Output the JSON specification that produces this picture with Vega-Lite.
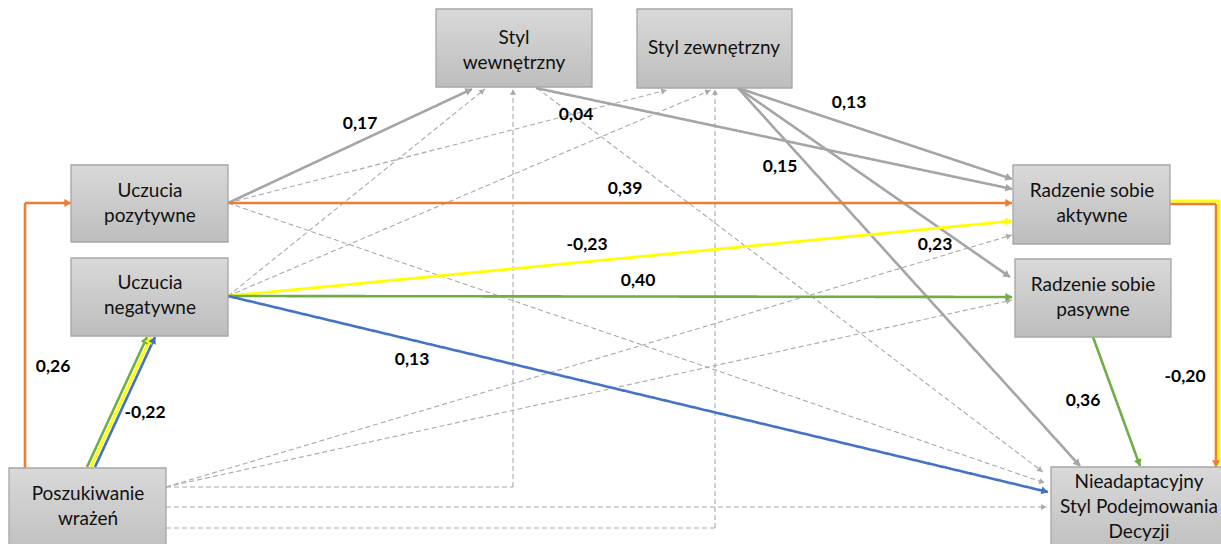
{
  "$schema": "https://vega.github.io/schema/vega-lite/v6.json",
  "width": 1221,
  "height": 544,
  "autosize": {"type": "none"},
  "padding": 0,
  "background": "white",
  "config": {"view": {"stroke": null}},
  "datasets": {
    "edges": [
      {"x1": 228, "y1": 203, "x2": 667, "y2": 90, "kind": "dash", "arrow": true},
      {"x1": 228, "y1": 203, "x2": 1045, "y2": 483, "kind": "dash", "arrow": true},
      {"x1": 228, "y1": 296, "x2": 485, "y2": 89, "kind": "dash", "arrow": true},
      {"x1": 228, "y1": 296, "x2": 711, "y2": 90, "kind": "dash", "arrow": true},
      {"x1": 537, "y1": 88, "x2": 1043, "y2": 472, "kind": "dash", "arrow": true},
      {"x1": 166, "y1": 487, "x2": 1012, "y2": 235, "kind": "dash", "arrow": true},
      {"x1": 166, "y1": 487, "x2": 1012, "y2": 300, "kind": "dash", "arrow": true},
      {"x1": 166, "y1": 487, "x2": 513, "y2": 487, "kind": "dash", "arrow": false},
      {"x1": 513, "y1": 487, "x2": 513, "y2": 89, "kind": "dash", "arrow": true},
      {"x1": 166, "y1": 507, "x2": 1047, "y2": 507, "kind": "dash", "arrow": true},
      {"x1": 166, "y1": 528, "x2": 715, "y2": 528, "kind": "dash", "arrow": false},
      {"x1": 715, "y1": 528, "x2": 715, "y2": 89, "kind": "dash", "arrow": true},
      {"x1": 228, "y1": 203, "x2": 472, "y2": 89, "kind": "gray", "arrow": true},
      {"x1": 536, "y1": 88, "x2": 1012, "y2": 189, "kind": "gray", "arrow": true},
      {"x1": 738, "y1": 88, "x2": 1012, "y2": 179, "kind": "gray", "arrow": true},
      {"x1": 738, "y1": 88, "x2": 1010, "y2": 277, "kind": "gray", "arrow": true},
      {"x1": 738, "y1": 88, "x2": 1080, "y2": 466, "kind": "gray", "arrow": true},
      {"x1": 1170, "y1": 201, "x2": 1219, "y2": 201, "kind": "yellow", "arrow": false},
      {"x1": 1219, "y1": 201, "x2": 1219, "y2": 465, "kind": "yellow", "arrow": false},
      {"x1": 1170, "y1": 204, "x2": 1216, "y2": 204, "kind": "orange", "arrow": false},
      {"x1": 1216, "y1": 204, "x2": 1216, "y2": 467, "kind": "orange", "arrow": true},
      {"x1": 25, "y1": 468, "x2": 25, "y2": 203, "kind": "orange", "arrow": false},
      {"x1": 25, "y1": 203, "x2": 71, "y2": 203, "kind": "orange", "arrow": true},
      {"x1": 228, "y1": 203, "x2": 1012, "y2": 203, "kind": "orange", "arrow": true},
      {"x1": 228, "y1": 296, "x2": 1012, "y2": 221, "kind": "yellow", "arrow": true},
      {"x1": 228, "y1": 296, "x2": 1012, "y2": 297, "kind": "green", "arrow": true},
      {"x1": 228, "y1": 296, "x2": 1048, "y2": 492, "kind": "blue", "arrow": true},
      {"x1": 87, "y1": 467, "x2": 147, "y2": 337, "kind": "green", "arrow": true},
      {"x1": 91, "y1": 467, "x2": 151, "y2": 337, "kind": "yellow", "arrow": true},
      {"x1": 95, "y1": 467, "x2": 155, "y2": 337, "kind": "blue", "arrow": true},
      {"x1": 1093, "y1": 337, "x2": 1140, "y2": 466, "kind": "green", "arrow": true}
    ],
    "nodes": [
      {"x1": 436, "x2": 592, "y1": 9, "y2": 87, "cx": 514, "cy": 38, "label": "Styl\nwewnętrzny"},
      {"x1": 637, "x2": 792, "y1": 9, "y2": 88, "cx": 714, "cy": 48, "label": "Styl zewnętrzny"},
      {"x1": 71, "x2": 228, "y1": 165, "y2": 242, "cx": 150, "cy": 191, "label": "Uczucia\npozytywne"},
      {"x1": 71, "x2": 228, "y1": 258, "y2": 336, "cx": 150, "cy": 283, "label": "Uczucia\nnegatywne"},
      {"x1": 9, "x2": 166, "y1": 468, "y2": 560, "cx": 88, "cy": 494, "label": "Poszukiwanie\nwrażeń"},
      {"x1": 1013, "x2": 1170, "y1": 165, "y2": 244, "cx": 1092, "cy": 191, "label": "Radzenie sobie\naktywne"},
      {"x1": 1015, "x2": 1171, "y1": 259, "y2": 337, "cx": 1093, "cy": 285, "label": "Radzenie sobie\npasywne"},
      {"x1": 1051, "x2": 1232, "y1": 467, "y2": 560, "cx": 1139, "cy": 482, "label": "Nieadaptacyjny\nStyl Podejmowania\nDecyzji"}
    ],
    "coefs": [
      {"x": 360, "y": 124, "t": "0,17"},
      {"x": 576, "y": 115, "t": "0,04"},
      {"x": 849, "y": 103, "t": "0,13"},
      {"x": 780, "y": 167, "t": "0,15"},
      {"x": 935, "y": 245, "t": "0,23"},
      {"x": 625, "y": 189, "t": "0,39"},
      {"x": 587, "y": 245, "t": "-0,23"},
      {"x": 638, "y": 281, "t": "0,40"},
      {"x": 412, "y": 360, "t": "0,13"},
      {"x": 53, "y": 367, "t": "0,26"},
      {"x": 145, "y": 413, "t": "-0,22"},
      {"x": 1083, "y": 401, "t": "0,36"},
      {"x": 1185, "y": 377, "t": "-0,20"}
    ]
  },
  "layer": [
    {
      "data": {"name": "edges"},
      "mark": {"type": "rule", "strokeCap": "butt"},
      "encoding": {
        "x": {"field": "x1", "type": "quantitative", "scale": {"domain": [0, 1221], "nice": false, "zero": false}, "axis": null},
        "y": {"field": "y1", "type": "quantitative", "scale": {"domain": [0, 544], "nice": false, "zero": false, "reverse": true}, "axis": null},
        "x2": {"field": "x2"},
        "y2": {"field": "y2"},
        "color": {"field": "kind", "type": "nominal", "legend": null,
          "scale": {"domain": ["dash", "gray", "orange", "yellow", "green", "blue"], "range": ["#a9a9a9", "#a5a5a5", "#ed7d31", "#ffff00", "#70ad47", "#4472c4"]}},
        "strokeWidth": {"field": "kind", "type": "ordinal", "legend": null,
          "scale": {"type": "ordinal", "domain": ["dash", "gray", "orange", "yellow", "green", "blue"], "range": [1.1, 2.6, 2.6, 2.8, 2.6, 2.6]}},
        "strokeDash": {"field": "kind", "type": "nominal", "legend": null,
          "scale": {"domain": ["dash", "gray", "orange", "yellow", "green", "blue"], "range": [[5, 3], [1, 0], [1, 0], [1, 0], [1, 0], [1, 0]]}}
      }
    },
    {
      "data": {"name": "edges"},
      "transform": [
        {"filter": "datum.arrow"},
        {"calculate": "datum.x2 - datum.x1", "as": "dx"},
        {"calculate": "datum.y2 - datum.y1", "as": "dy"},
        {"calculate": "sqrt(datum.dx * datum.dx + datum.dy * datum.dy)", "as": "len"},
        {"calculate": "atan2(datum.dx, -datum.dy) * 180 / PI", "as": "ang"},
        {"calculate": "datum.x2 - 3.2 * datum.dx / datum.len", "as": "ax"},
        {"calculate": "datum.y2 - 3.2 * datum.dy / datum.len", "as": "ay"}
      ],
      "mark": {"type": "point", "shape": "triangle-up", "filled": true, "opacity": 1, "strokeWidth": 0},
      "encoding": {
        "x": {"field": "ax", "type": "quantitative", "scale": {"domain": [0, 1221], "nice": false, "zero": false}, "axis": null},
        "y": {"field": "ay", "type": "quantitative", "scale": {"domain": [0, 544], "nice": false, "zero": false, "reverse": true}, "axis": null},
        "angle": {"field": "ang", "type": "quantitative", "scale": null},
        "color": {"field": "kind", "type": "nominal", "legend": null,
          "scale": {"domain": ["dash", "gray", "orange", "yellow", "green", "blue"], "range": ["#a9a9a9", "#a5a5a5", "#ed7d31", "#ffff00", "#70ad47", "#4472c4"]}},
        "size": {"field": "kind", "type": "ordinal", "legend": null,
          "scale": {"type": "ordinal", "domain": ["dash", "gray", "orange", "yellow", "green", "blue"], "range": [38, 64, 64, 64, 64, 64]}}
      }
    },
    {
      "data": {"name": "nodes"},
      "mark": {"type": "rect", "clip": true, "stroke": "#a6a6a6", "strokeWidth": 1.3,
        "fill": {"gradient": "linear", "x1": 0, "y1": 0, "x2": 0, "y2": 1,
          "stops": [{"offset": 0, "color": "#d9d9d9"}, {"offset": 1, "color": "#bdbdbd"}]}},
      "encoding": {
        "x": {"field": "x1", "type": "quantitative", "scale": {"domain": [0, 1221], "nice": false, "zero": false}, "axis": null},
        "x2": {"field": "x2"},
        "y": {"field": "y1", "type": "quantitative", "scale": {"domain": [0, 544], "nice": false, "zero": false, "reverse": true}, "axis": null},
        "y2": {"field": "y2"}
      }
    },
    {
      "data": {"name": "nodes"},
      "mark": {"type": "text", "font": "Lato", "fontSize": 19, "lineBreak": "\n", "lineHeight": 25, "baseline": "middle", "align": "center", "color": "#111111"},
      "encoding": {
        "x": {"field": "cx", "type": "quantitative", "scale": {"domain": [0, 1221], "nice": false, "zero": false}, "axis": null},
        "y": {"field": "cy", "type": "quantitative", "scale": {"domain": [0, 544], "nice": false, "zero": false, "reverse": true}, "axis": null},
        "text": {"field": "label", "type": "nominal"}
      }
    },
    {
      "data": {"name": "coefs"},
      "mark": {"type": "text", "font": "Lato", "fontWeight": "bold", "fontSize": 17.5, "baseline": "middle", "align": "center", "color": "#000000"},
      "encoding": {
        "x": {"field": "x", "type": "quantitative", "scale": {"domain": [0, 1221], "nice": false, "zero": false}, "axis": null},
        "y": {"field": "y", "type": "quantitative", "scale": {"domain": [0, 544], "nice": false, "zero": false, "reverse": true}, "axis": null},
        "text": {"field": "t", "type": "nominal"}
      }
    }
  ]
}
